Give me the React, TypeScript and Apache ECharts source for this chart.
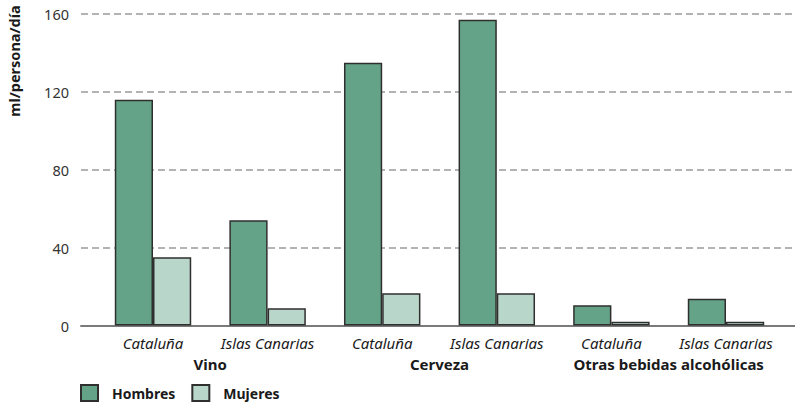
import React, { useEffect, useRef } from "react";
import * as echarts from "echarts";

const subCategories = ["Cataluña", "Islas Canarias", "Cataluña", "Islas Canarias", "Cataluña", "Islas Canarias"];
const groupCategories = ["Vino", "Cerveza", "Otras bebidas alcohólicas"];
const hombres = [116, 54, 135, 157, 10.4, 13.8];
const mujeres = [35, 8.8, 16.6, 16.6, 1.9, 1.9];
const yTicks = [0, 40, 80, 120, 160];

const FONT = "'Noto Sans', 'Open Sans', sans-serif";

export default function App() {
  const ref = useRef<HTMLDivElement>(null);
  useEffect(() => {
    if (!ref.current) return;
    const chart = echarts.init(ref.current, undefined, { renderer: "svg" });
    const yMin = yTicks[0];
    const yMax = yTicks[yTicks.length - 1];
    const yInterval = yTicks[1] - yTicks[0];
    chart.setOption({
      animation: false,
      textStyle: { fontFamily: FONT },
      grid: [
        { left: 81, right: 0, top: 14, bottom: 77.5 },
        { left: 95.7, right: 11.7, top: 14, bottom: 77.5 },
      ],
      xAxis: [
        {
          gridIndex: 0,
          type: "value",
          min: 0,
          max: 1,
          axisLine: { show: true, onZero: true, lineStyle: { color: "#7a7a7a", width: 2 } },
          axisTick: { show: false },
          axisLabel: { show: false },
          splitLine: { show: false },
        },
        {
          gridIndex: 1,
          type: "category",
          data: subCategories,
          axisLine: { show: false },
          axisTick: { show: false },
          axisLabel: {
            margin: 10,
            fontStyle: "italic",
            fontSize: 15,
            color: "#1a1a1a",
            fontFamily: FONT,
            interval: 0,
          },
        },
        {
          gridIndex: 1,
          type: "category",
          position: "bottom",
          offset: 23,
          data: groupCategories,
          axisLine: { show: false },
          axisTick: { show: false },
          axisLabel: {
            margin: 8,
            fontWeight: "bold",
            fontSize: 15,
            color: "#1a1a1a",
            fontFamily: FONT,
            interval: 0,
          },
        },
      ],
      yAxis: [
        {
          gridIndex: 0,
          type: "value",
          min: yMin,
          max: yMax,
          interval: yInterval,
          axisLine: { show: false },
          axisTick: { show: false },
          axisLabel: { margin: 12, fontSize: 14.5, color: "#333", fontFamily: FONT },
          splitLine: { show: true, lineStyle: { color: "#9a9a9a", type: [7, 4], width: 1.5 } },
        },
        {
          gridIndex: 1,
          type: "value",
          min: yMin,
          max: yMax,
          interval: yInterval,
          show: false,
          splitLine: { show: false },
        },
      ],
      legend: {
        left: 80,
        top: 384,
        padding: 0,
        itemWidth: 17,
        itemHeight: 16,
        itemGap: 16,
        icon: "rect",
        textStyle: {
          fontWeight: "bold",
          fontSize: 14,
          color: "#1a1a1a",
          fontFamily: FONT,
          padding: [0, 0, 0, 9],
        },
        data: ["Hombres", "Mujeres"],
      },
      graphic: [
        {
          type: "text",
          x: 14,
          y: 61,
          rotation: Math.PI / 2,
          style: {
            text: "ml/persona/día",
            fontWeight: "bold",
            fontSize: 14.5,
            fill: "#1a1a1a",
            fontFamily: FONT,
            textAlign: "center",
            textVerticalAlign: "middle",
          },
        },
      ],
      series: [
        {
          name: "Hombres",
          type: "bar",
          xAxisIndex: 1,
          yAxisIndex: 1,
          data: hombres,
          barGap: "0%",
          barCategoryGap: "33.3%",
          itemStyle: { color: "#64a387", borderColor: "#2f2f2f", borderWidth: 1.5 },
        },
        {
          name: "Mujeres",
          type: "bar",
          xAxisIndex: 1,
          yAxisIndex: 1,
          data: mujeres,
          barGap: "0%",
          barCategoryGap: "33.3%",
          itemStyle: { color: "#b9d6ca", borderColor: "#2f2f2f", borderWidth: 1.5 },
        },
      ],
    });
    return () => chart.dispose();
  }, []);
  return (
    <div
      ref={ref}
      style={{ position: "absolute", left: 0, top: 0, width: 795, height: 403 }}
    />
  );
}
